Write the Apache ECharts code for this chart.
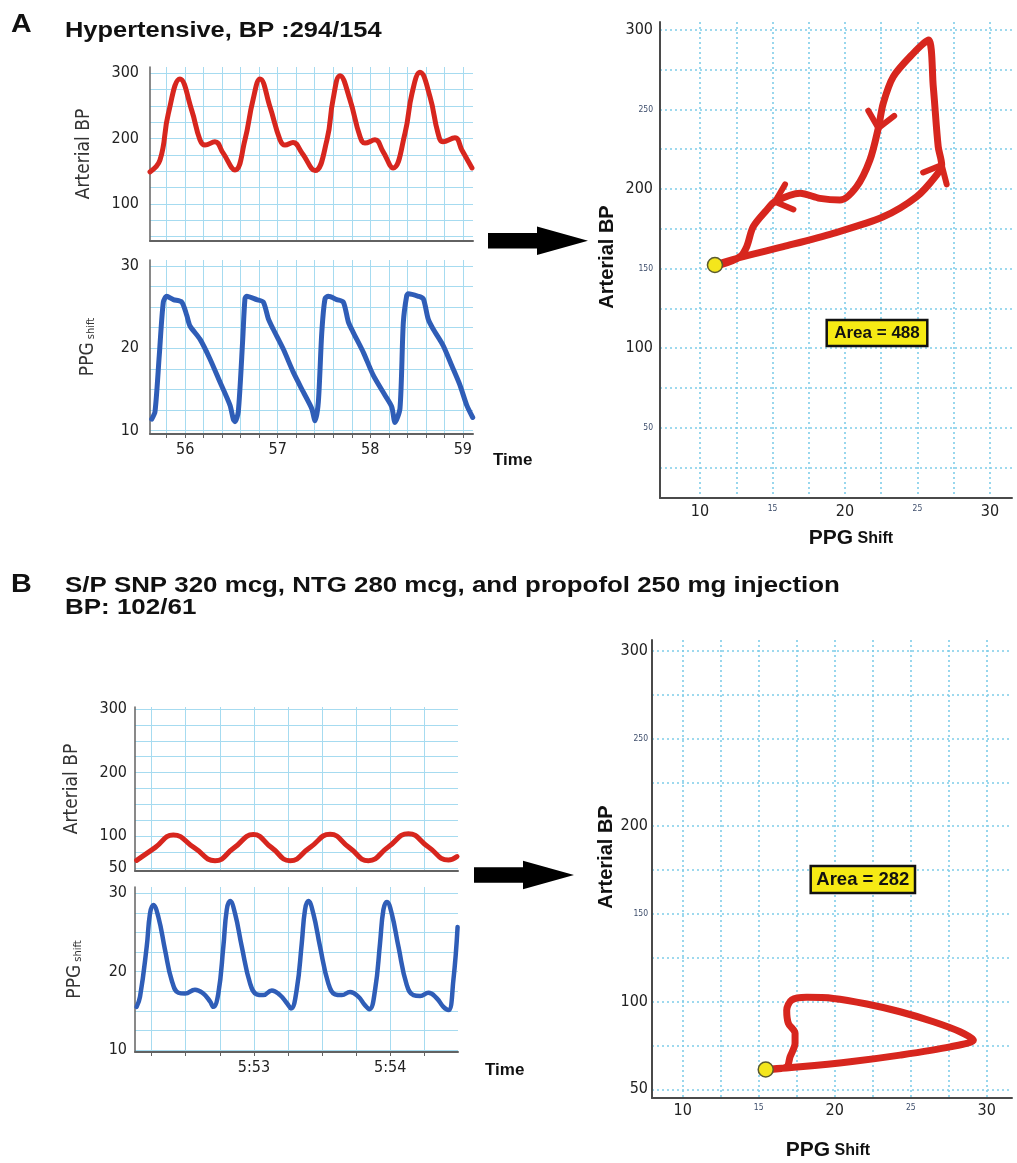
<!DOCTYPE html>
<html>
<head>
<meta charset="utf-8">
<script src="https://cdn.jsdelivr.net/npm/echarts@6/dist/echarts.min.js"></script>
<style>
  html, body { margin: 0; padding: 0; background: #fff; }
  #chart { width: 1017px; height: 1163px; }
</style>
</head>
<body>
<div id="chart"></div>
<script>
// ---------- Panel A: hypertensive ----------
const aTime = [55.620, 55.728, 55.818, 55.944, 56.071, 56.160, 56.214, 56.322, 56.409, 56.538,
  56.646, 56.733, 56.809, 56.917, 57.025, 57.079, 57.165, 57.262, 57.403, 57.532,
  57.597, 57.673, 57.781, 57.889, 57.943, 58.051, 58.138, 58.246, 58.375, 58.451,
  58.537, 58.645, 58.732, 58.786, 58.915, 58.991, 59.099];
const aBP = [149, 167, 238, 291, 243, 198, 190, 195, 178, 152,
  198, 259, 291, 248, 198, 190, 194, 178, 151, 198,
  259, 296, 259, 203, 193, 198, 180, 155, 208, 269,
  301, 264, 208, 195, 201, 182, 155];

const aPpgTime = [55.638, 55.674, 55.720, 55.764, 55.800, 55.872, 55.963, 56.017, 56.052, 56.160,
  56.268, 56.376, 56.484, 56.520, 56.538, 56.574, 56.622, 56.646, 56.665, 56.773,
  56.844, 56.898, 56.952, 57.060, 57.168, 57.276, 57.367, 57.403, 57.439, 57.476,
  57.511, 57.547, 57.638, 57.709, 57.763, 57.817, 57.925, 58.033, 58.159, 58.232,
  58.267, 58.321, 58.357, 58.394, 58.411, 58.519, 58.573, 58.627, 58.681, 58.789,
  58.880, 58.970, 59.042, 59.107];
const aPPG = [11.4, 12.3, 19.1, 25.6, 26.3, 25.9, 25.6, 24.0, 22.7, 21.1,
  18.7, 15.9, 13.1, 11.4, 11.1, 12.3, 21.1, 26.0, 26.3, 25.9,
  25.6, 23.6, 22.3, 19.9, 17.1, 14.7, 12.7, 11.2, 13.5, 21.9,
  26.0, 26.3, 25.9, 25.6, 23.2, 21.9, 19.5, 16.7, 14.3, 12.9,
  11.0, 12.7, 23.1, 26.4, 26.6, 26.3, 26.0, 23.5, 22.3, 20.3,
  17.9, 15.5, 13.1, 11.6];

// pressure–PPG loop, traced from the start dot
const aLoopPPG = [11.03, 12.98, 15.74, 19.19, 22.64, 24.94, 26.32, 26.67, 26.43, 26.09,
  25.75, 24.71, 23.33, 22.64, 22.30, 21.72, 20.80, 19.65, 18.27, 16.90,
  15.17, 14.60, 13.67, 13.22, 12.76, 11.38];
const aLoopBP = [152.2, 157.4, 163.7, 172.1, 182.5, 195.1, 208.8, 215.1, 226.6, 264.3,
  293.7, 285.3, 270.6, 253.9, 238.3, 218.2, 201.4, 193.0, 194.1, 197.3,
  192.0, 186.8, 176.3, 163.7, 157.4, 152.2];
const aLoopArrowIdx = [7, 14, 20];   // direction arrowheads along the loop
const aArea = 488;

// ---------- Panel B: after SNP / NTG / propofol ----------
const bTime = [352.14, 352.275, 352.409, 352.562, 352.715, 352.856, 352.996, 353.13, 353.265, 353.41,
  353.559, 353.70, 353.84, 353.985, 354.133, 354.28, 354.427, 354.49];
const bBP = [62, 82, 102, 82, 61.5, 82, 102.5, 82, 61.5, 82,
  103, 82, 61.5, 83, 104, 83, 62.5, 68];

const bPpgTime = [352.140, 352.165, 352.214, 352.238, 352.262, 352.299, 352.348, 352.397, 352.446, 352.495,
  352.568, 352.629, 352.678, 352.702, 352.739, 352.776, 352.801, 352.825, 352.862, 352.911,
  352.972, 353.021, 353.069, 353.131, 353.192, 353.241, 353.272, 353.314, 353.351, 353.375,
  353.399, 353.436, 353.485, 353.546, 353.595, 353.645, 353.705, 353.766, 353.815, 353.847,
  353.889, 353.925, 353.950, 353.975, 354.011, 354.060, 354.121, 354.170, 354.219, 354.280,
  354.341, 354.390, 354.427, 354.463, 354.494];
const bPPG = [15.5, 16.8, 23.2, 27.4, 28.5, 27.0, 22.8, 18.9, 17.3, 17.2,
  17.7, 17.2, 16.2, 15.5, 17.2, 23.2, 27.9, 29.0, 27.4, 23.2,
  18.5, 17.1, 17.0, 17.6, 17.0, 16.0, 15.3, 17.7, 23.6, 27.9,
  29.0, 27.4, 23.2, 18.5, 17.1, 17.0, 17.4, 16.8, 15.7, 15.2,
  17.7, 23.6, 27.9, 28.9, 27.4, 23.2, 18.3, 17.0, 16.9, 17.3,
  16.6, 15.5, 15.1, 18.9, 25.7];

const bLoopPPG = [15.46, 17.72, 21.01, 24.30, 27.59, 29.12, 28.24, 26.49, 24.30, 22.11,
  19.91, 18.16, 17.17, 16.84, 16.95, 17.39, 17.39, 17.06, 16.84, 15.74];
const bLoopBP = [61.3, 62.8, 65.7, 69.5, 74.2, 78.0, 82.8, 88.5, 94.2, 98.6,
  101.8, 102.4, 100.9, 95.1, 87.6, 81.9, 76.2, 68.5, 62.8, 61.3];
const bArea = 282;

// ---------- tick labels ----------
const aTimeLabels = [56, 57, 58, 59];
const bTimeLabels = [353, 354];
const bpLabelsA = [100, 200, 300];
const bpLabelsB = [50, 100, 200, 300];
const ppgLabels = [10, 20, 30];
const loopXLabels = [10, 15, 20, 25, 30];
const loopXMajor = [10, 20, 30];
const loopYLabels = [50, 100, 150, 200, 250, 300];
const loopYMajorA = [100, 200, 300];
const loopYMajorB = [50, 100, 200, 300];

// ---------- styling ----------
const RED = '#d7261e';
const BLUE = '#2f5db7';
const GRID_BLUE = '#a6dbf0';
const DOT_BLUE = '#7fcde9';
const AXIS_GREY = '#626262';
const TICK_FONT = "'DejaVu Sans Condensed', 'DejaVu Sans', sans-serif";
const BOLD_FONT = "'Liberation Sans', Arial, Helvetica, sans-serif";

function steps(from, to, step) {
  const out = [];
  for (let v = from; v <= to + 1e-9; v += step) out.push(+v.toFixed(4));
  return out;
}
const aTimeGrid = steps(55.8, 59.0, 0.2);
const bTimeGrid = steps(352.25, 354.25, 0.25);
const bpGrid = steps(50, 300, 25);
const ppgGrid = steps(10, 30, 2.5);
const loopXGrid = steps(10, 30, 2.5);
const loopYGridA = steps(25, 300, 25);
const loopYGridB = steps(50, 300, 25);

const pairs = (xs, ys) => xs.map((x, i) => [x, ys[i]]);
const clock = v => Math.floor(v / 60) + ':' + String(Math.round(v % 60)).padStart(2, '0');
const sized = major => v => (major.includes(v) ? '{big|' + v + '}' : '{small|' + v + '}');

function waveX(gridIndex, min, max, gridVals, labelVals, fmt) {
  return {
    type: 'value', gridIndex, min, max,
    axisLine: { show: true, onZero: false, lineStyle: { color: AXIS_GREY, width: 2 } },
    axisTick: { show: !!labelVals, length: 4, customValues: gridVals, lineStyle: { color: AXIS_GREY } },
    axisLabel: labelVals
      ? { show: true, customValues: labelVals, margin: 8, fontFamily: TICK_FONT, fontSize: 16, color: '#222', formatter: fmt }
      : { show: false },
    splitLine: { show: true, lineStyle: { color: GRID_BLUE, width: 1 } }
  };
}
function waveY(gridIndex, min, max, gridVals, labelVals, name, nameGap, margin) {
  return {
    type: 'value', gridIndex, min, max,
    axisLine: { show: true, onZero: false, lineStyle: { color: AXIS_GREY, width: 1.5 } },
    axisTick: { show: false, customValues: gridVals },
    axisLabel: { show: true, customValues: labelVals, margin, fontFamily: TICK_FONT, fontSize: 16, color: '#222' },
    splitLine: { show: true, lineStyle: { color: GRID_BLUE, width: 1 } },
    name, nameLocation: 'middle', nameGap,
    nameTextStyle: {
      fontFamily: TICK_FONT, fontSize: 19, color: '#333',
      rich: {
        p: { fontFamily: TICK_FONT, fontSize: 19, color: '#333', verticalAlign: 'bottom', lineHeight: 22 },
        s: { fontFamily: TICK_FONT, fontSize: 11, color: '#333', verticalAlign: 'bottom', lineHeight: 22, padding: [0, 0, 1, 0] }
      }
    }
  };
}
const loopRich = {
  big: { fontFamily: TICK_FONT, fontSize: 16, color: '#222' },
  small: { fontFamily: TICK_FONT, fontSize: 8.5, color: '#3d4d6b' }
};
function loopX(gridIndex, min, max, nameGap, namePad, margin) {
  return {
    type: 'value', gridIndex, min, max,
    axisLine: { show: true, onZero: false, lineStyle: { color: '#4a4a4a', width: 2 } },
    axisTick: { show: false, customValues: loopXGrid },
    axisLabel: { show: true, customValues: loopXLabels, margin, formatter: sized(loopXMajor), rich: loopRich },
    splitLine: { show: true, lineStyle: { color: DOT_BLUE, width: 1.6, type: [2, 3] } },
    name: '{p|PPG}{s| Shift}', nameLocation: 'middle', nameGap,
    nameTextStyle: {
      padding: namePad,
      rich: {
        p: { fontFamily: BOLD_FONT, fontWeight: 'bold', fontSize: 21, color: '#111' },
        s: { fontFamily: BOLD_FONT, fontWeight: 'bold', fontSize: 16, color: '#111' }
      }
    }
  };
}
function loopY(gridIndex, min, max, gridVals, major, nameGap, namePad, margin) {
  return {
    type: 'value', gridIndex, min, max,
    axisLine: { show: true, onZero: false, lineStyle: { color: '#4a4a4a', width: 2 } },
    axisTick: { show: false, customValues: gridVals },
    axisLabel: { show: true, customValues: loopYLabels, margin, formatter: sized(major), rich: loopRich },
    splitLine: { show: true, lineStyle: { color: DOT_BLUE, width: 1.6, type: [2, 3] } },
    name: 'Arterial BP', nameLocation: 'middle', nameGap,
    nameTextStyle: { fontFamily: BOLD_FONT, fontWeight: 'bold', fontSize: 20, color: '#111', padding: namePad }
  };
}

function arrowHeads(idx, xs, ys, xi, yi) {
  return {
    type: 'custom', xAxisIndex: xi, yAxisIndex: yi, z: 4,
    data: idx.map(i => [xs[i], ys[i], xs[i - 1], ys[i - 1]]),
    encode: { x: [0, 2], y: [1, 3] },
    renderItem: (params, api) => {
      const tip = api.coord([api.value(0), api.value(1)]);
      const prev = api.coord([api.value(2), api.value(3)]);
      const back = Math.atan2(prev[1] - tip[1], prev[0] - tip[0]);
      const len = 20, spread = 0.72;
      const p1 = [tip[0] + len * Math.cos(back + spread), tip[1] + len * Math.sin(back + spread)];
      const p2 = [tip[0] + len * Math.cos(back - spread), tip[1] + len * Math.sin(back - spread)];
      return {
        type: 'polyline',
        shape: { points: [p1, tip, p2] },
        style: { stroke: RED, lineWidth: 6, fill: null, lineCap: 'round', lineJoin: 'round' }
      };
    }
  };
}
function startDot(x, y, xi, yi) {
  return {
    type: 'scatter', xAxisIndex: xi, yAxisIndex: yi, z: 5,
    data: [[x, y]], symbolSize: 15,
    itemStyle: { color: '#f4e61c', borderColor: '#5a5a30', borderWidth: 1.5, opacity: 1 }
  };
}
function textEl(text, x, y, size, scaleX) {
  return {
    type: 'text', x, y, scaleX, z: 10,
    style: {
      text, font: 'bold ' + size + 'px ' + BOLD_FONT, fill: '#111',
      align: 'left', textAlign: 'left', verticalAlign: 'middle', textVerticalAlign: 'middle'
    }
  };
}
function areaBox(value, x, y, w, h, size) {
  return [
    { type: 'rect', z: 10, shape: { x, y, width: w, height: h },
      style: { fill: '#f6ea14', stroke: '#111', lineWidth: 2.5 } },
    { type: 'text', z: 11, x: x + w / 2, y: y + h / 2 + 0.5,
      style: { text: 'Area = ' + value, font: 'bold ' + size + 'px ' + BOLD_FONT, fill: '#111',
        align: 'center', textAlign: 'center', verticalAlign: 'middle', textVerticalAlign: 'middle' } }
  ];
}
function blockArrow(x0, yc) {
  return {
    type: 'polygon', z: 10,
    shape: { points: [[x0, yc - 7.8], [x0 + 49, yc - 7.8], [x0 + 49, yc - 14.2], [x0 + 100, yc],
      [x0 + 49, yc + 14.2], [x0 + 49, yc + 7.8], [x0, yc + 7.8]] },
    style: { fill: '#000' }
  };
}

const chart = echarts.init(document.getElementById('chart'), null, { renderer: 'canvas' });
chart.setOption({
  animation: false,
  backgroundColor: '#fff',
  grid: [
    { left: 150, top: 67, width: 323, height: 174, outerBoundsMode: 'none' },
    { left: 150, top: 260, width: 323, height: 174, outerBoundsMode: 'none' },
    { left: 660, top: 22, width: 352, height: 476, outerBoundsMode: 'none' },
    { left: 135, top: 707, width: 323, height: 164, outerBoundsMode: 'none' },
    { left: 135, top: 887, width: 323, height: 165, outerBoundsMode: 'none' },
    { left: 652, top: 640, width: 360, height: 458, outerBoundsMode: 'none' }
  ],
  xAxis: [
    waveX(0, 55.62, 59.11, aTimeGrid, null),
    waveX(1, 55.62, 59.11, aTimeGrid, aTimeLabels, v => String(v)),
    loopX(2, 7.24, 31.52, 30, [0, 0, 0, 30], 6),
    waveX(3, 352.128, 354.497, bTimeGrid, null),
    waveX(4, 352.128, 354.497, bTimeGrid, bTimeLabels, clock),
    loopX(5, 7.98, 31.66, 42, [0, 8, 0, 0], 5)
  ],
  yAxis: [
    waveY(0, 43.5, 309.2, bpGrid, bpLabelsA, 'Arterial BP', 56, 11),
    waveY(1, 9.6, 30.7, ppgGrid, ppgLabels, '{p|PPG}{s| shift}', 52, 11),
    loopY(2, 5.7, 305, loopYGridA, loopYMajorA, 43, [0, 0, 0, 6], 7),
    waveY(3, 45.3, 303.1, bpGrid, bpLabelsB, 'Arterial BP', 53, 8),
    waveY(4, 9.74, 30.8, ppgGrid, ppgLabels, '{p|PPG}{s| shift}', 50, 8),
    loopY(5, 45.04, 306.1, loopYGridB, loopYMajorB, 36, [0, 0, 0, 24], 4)
  ],
  series: [
    { type: 'line', xAxisIndex: 0, yAxisIndex: 0, data: pairs(aTime, aBP), smooth: 0.45,
      showSymbol: false, lineStyle: { color: RED, width: 5, cap: 'round', join: 'round' } },
    { type: 'line', xAxisIndex: 1, yAxisIndex: 1, data: pairs(aPpgTime, aPPG), smooth: 0.25,
      showSymbol: false, lineStyle: { color: BLUE, width: 5, cap: 'round', join: 'round' } },
    { type: 'line', xAxisIndex: 2, yAxisIndex: 2, data: pairs(aLoopPPG, aLoopBP), smooth: 0.3,
      showSymbol: false, lineStyle: { color: RED, width: 7, cap: 'round', join: 'round' } },
    arrowHeads(aLoopArrowIdx, aLoopPPG, aLoopBP, 2, 2),
    startDot(aLoopPPG[0], aLoopBP[0], 2, 2),
    { type: 'line', xAxisIndex: 3, yAxisIndex: 3, data: pairs(bTime, bBP), smooth: 0.5,
      showSymbol: false, lineStyle: { color: RED, width: 5, cap: 'round', join: 'round' } },
    { type: 'line', xAxisIndex: 4, yAxisIndex: 4, data: pairs(bPpgTime, bPPG), smooth: 0.45,
      showSymbol: false, lineStyle: { color: BLUE, width: 4.5, cap: 'round', join: 'round' } },
    { type: 'line', xAxisIndex: 5, yAxisIndex: 5, data: pairs(bLoopPPG, bLoopBP), smooth: 0.3,
      showSymbol: false, lineStyle: { color: RED, width: 7, cap: 'round', join: 'round' } },
    startDot(bLoopPPG[0], bLoopBP[0], 5, 5)
  ],
  graphic: [
    textEl('A', 11, 24.5, 26, 1.1),
    textEl('Hypertensive, BP :294/154', 65, 30.5, 22, 1.156),
    textEl('B', 11, 585, 25, 1.15),
    textEl('S/P SNP 320 mcg, NTG 280 mcg, and propofol 250 mg injection', 65, 585.8, 22, 1.176),
    textEl('BP: 102/61', 65, 608, 22, 1.18),
    textEl('Time', 493, 460, 17, 1.0),
    textEl('Time', 485, 1070, 17, 1.0),
    blockArrow(488, 240.7),
    blockArrow(474, 875),
    ...areaBox(aArea, 826.7, 320, 100.6, 26, 17),
    ...areaBox(bArea, 810.7, 866, 104.3, 27, 18.5)
  ]
});
</script>
</body>
</html>
